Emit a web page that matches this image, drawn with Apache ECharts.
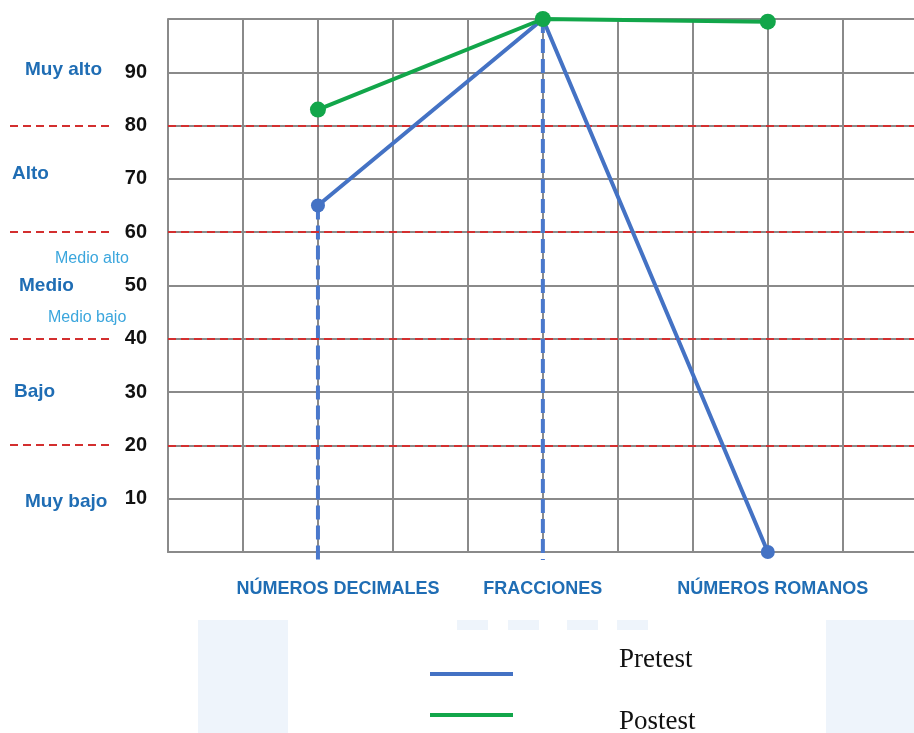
<!DOCTYPE html>
<html>
<head>
<meta charset="utf-8">
<script src="https://cdn.jsdelivr.net/npm/echarts@6/dist/echarts.min.js"></script>
<style>html,body{margin:0;padding:0;background:#fff}#c{width:914px;height:733px}</style>
</head>
<body>
<div id="c"></div>
<script>
// ---- data ----
const categories = ['NÚMEROS DECIMALES', 'FRACCIONES', 'NÚMEROS ROMANOS'];
const categoryPos = [2, 5, 8];
const pretest = [65, 100, 0];
const postest = [83, 100, 99.5];
const thresholds = [20, 40, 60, 80];
const yTicks = [10, 20, 30, 40, 50, 60, 70, 80, 90];
const levelNames = ['Muy alto', 'Alto', 'Medio alto', 'Medio', 'Medio bajo', 'Bajo', 'Muy bajo'];
const levelValues = [90.5, 71, 55, 50, 44, 30, 9.5];
const seriesNames = ['Pretest', 'Postest'];

const BLUE = '#4472C4', GREEN = '#12A64A', GRIDC = '#8a8a8a', RED = '#d32f2f';
const DARKBLUE = '#1f6db4', LIGHTBLUE = '#3ba6dd';

const chart = echarts.init(document.getElementById('c'));
const pts = (vals) => vals.map((v, i) => [categoryPos[i], v]);
const labelShift = [40, 0, 10];
const catFont = { fontFamily: 'Liberation Sans, Arial', fontWeight: 'bold', fontSize: 18, color: DARKBLUE };

const option = {
  animation: false,
  backgroundColor: '#fff',
  grid: { left: 168, top: 19, right: 0, height: 533 },
  xAxis: {
    type: 'value', min: 0, max: 9.95, interval: 1,
    axisLine: { show: true, lineStyle: { color: GRIDC, width: 2 } },
    axisTick: { show: false },
    splitLine: { show: true, showMaxLine: false, lineStyle: { color: GRIDC, width: 2 } },
    axisLabel: {
      margin: 28, showMaxLabel: false,
      formatter: (v) => {
        const i = categoryPos.indexOf(v);
        return i < 0 ? '' : '{c' + i + '|' + categories[i] + '}';
      },
      rich: {
        c0: Object.assign({}, catFont, { padding: [0, 0, 0, labelShift[0]] }),
        c1: Object.assign({}, catFont),
        c2: Object.assign({}, catFont, { padding: [0, 0, 0, labelShift[2]] })
      }
    }
  },
  yAxis: {
    type: 'value', min: 0, max: 100, interval: 10,
    axisLine: { show: true, lineStyle: { color: GRIDC, width: 2 } },
    axisTick: { show: false },
    splitLine: { show: true, lineStyle: { color: GRIDC, width: 2 } },
    axisLabel: {
      margin: 21, color: '#111', fontWeight: 'bold', fontSize: 20, fontFamily: 'Liberation Sans, Arial',
      formatter: (v) => yTicks.indexOf(v) >= 0 ? String(v) : ''
    }
  },
  series: [
    {
      name: 'drop', type: 'line', clip: false, silent: true, symbol: 'none',
      data: [[categoryPos[0], pretest[0]], [categoryPos[0], -1.5]],
      lineStyle: { color: '#4a78cc', width: 4, type: [14, 6] }, z: 3
    },
    {
      name: 'drop2', type: 'line', clip: false, silent: true, symbol: 'none',
      data: [[categoryPos[1], pretest[1]], [categoryPos[1], -1.5]],
      lineStyle: { color: '#4a78cc', width: 4, type: [14, 6] }, z: 3
    },
    {
      name: 'thresholds', type: 'line', data: [], silent: true,
      markLine: {
        silent: true, symbol: 'none', label: { show: false },
        lineStyle: { color: RED, width: 2, type: [8, 5] },
        data: thresholds.map(t => ({ yAxis: t }))
      }, z: 4
    },
    {
      name: seriesNames[0], type: 'line', clip: false, data: pts(pretest),
      symbol: 'circle', symbolSize: 14,
      lineStyle: { color: BLUE, width: 4 }, itemStyle: { color: BLUE }, z: 5
    },
    {
      name: seriesNames[1], type: 'line', clip: false, data: pts(postest),
      symbol: 'circle', symbolSize: 16,
      lineStyle: { color: GREEN, width: 4 }, itemStyle: { color: GREEN }, z: 6
    }
  ]
};
chart.setOption(option);

// annotations computed from the y scale
const yPix = (v) => chart.convertToPixel({ yAxisIndex: 0 }, v);
const levelLeft = [25, 12, 55, 19, 48, 14, 25];
const levelStyle = [0, 0, 1, 0, 1, 0, 0];
const g = [];
// faint watermark blocks
[[198, 620, 90, 113], [457, 620, 31, 10], [508, 620, 31, 10], [567, 620, 31, 10], [617, 620, 31, 10], [826, 620, 88, 113]].forEach(r => {
  g.push({ type: 'rect', shape: { x: r[0], y: r[1], width: r[2], height: r[3] }, style: { fill: '#eef4fb' }, z: 0, silent: true });
});
thresholds.forEach(t => {
  const y = Math.round(yPix(t));
  g.push({ type: 'line', shape: { x1: 10, y1: y, x2: 114, y2: y }, style: { stroke: RED, lineWidth: 2, lineDash: [8, 5] }, silent: true });
});
levelNames.forEach((n, i) => {
  const sub = levelStyle[i] === 1;
  g.push({
    type: 'text', x: levelLeft[i], y: yPix(levelValues[i]), silent: true,
    style: {
      text: n, fill: sub ? LIGHTBLUE : DARKBLUE,
      font: (sub ? 'normal 16px' : 'bold 19px') + ' "Liberation Sans", Arial',
      verticalAlign: 'middle', align: 'left'
    }
  });
});
// legend
const legendColors = [BLUE, GREEN];
const legendLineY = [674, 715];
const legendTextY = [660, 722];
seriesNames.forEach((n, i) => {
  g.push({ type: 'line', shape: { x1: 430, y1: legendLineY[i], x2: 513, y2: legendLineY[i] }, style: { stroke: legendColors[i], lineWidth: 4 }, silent: true });
  g.push({ type: 'text', x: 619, y: legendTextY[i], silent: true, style: { text: n, fill: '#111', font: '27px "Liberation Serif", "Times New Roman", serif', verticalAlign: 'middle', align: 'left' } });
});
chart.setOption({ graphic: g });
</script>
</body>
</html>
